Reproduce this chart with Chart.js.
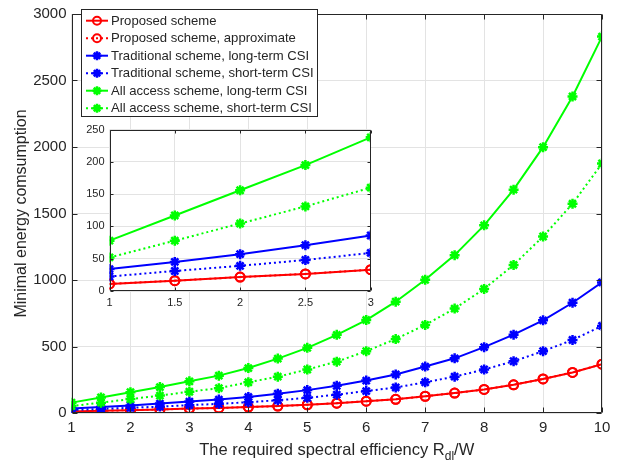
<!DOCTYPE html>
<html>
<head>
<meta charset="utf-8">
<script src="https://cdn.jsdelivr.net/npm/chart.js@4"></script>
<style>
  html, body { margin: 0; padding: 0; background: #ffffff; }
  #wrap { position: relative; width: 624px; height: 465px; }
  #main { position: absolute; left: 0; top: 0; }
  #inset { position: absolute; left: 75px; top: 118px; }
</style>
</head>
<body>
<div id="wrap">
  <canvas id="main" width="624" height="465"></canvas>
  <canvas id="inset" width="305" height="200"></canvas>
</div>
<script>
// ---------------- data ----------------
const xValues = [1, 1.5, 2, 2.5, 3, 3.5, 4, 4.5, 5, 5.5, 6, 6.5, 7, 7.5, 8, 8.5, 9, 9.5, 10];

const proposed        = [11, 16, 21.5, 26.5, 33, 38, 45, 52, 62, 74, 89, 103, 126, 150, 177, 212, 256, 305, 367];
const proposedApprox  = [11, 16, 21.5, 26.5, 33, 38, 45, 52, 62, 74, 89, 103, 126, 150, 177, 212, 256, 305, 367];
const tradLong        = [34, 45, 57, 71, 86, 101, 120, 145, 172, 205, 244, 290, 349, 411, 495, 589, 697, 829, 982];
const tradShort       = [22.5, 31, 39, 48, 59, 69, 81, 96, 114, 138, 165, 192, 231, 273, 327, 389, 465, 549, 655];
const allLong         = [78, 117, 156, 195, 238, 281, 338, 409, 490, 588, 699, 837, 1002, 1187, 1411, 1679, 1999, 2380, 2830];
const allShort        = [52, 78, 104.5, 131, 160, 187, 231, 273, 327, 386, 465, 556, 662, 785, 933, 1113, 1327, 1573, 1876];

const seriesLabels = [
  'Proposed scheme',
  'Proposed scheme, approximate',
  'Traditional scheme, long-term CSI',
  'Traditional scheme, short-term CSI',
  'All access scheme, long-term CSI',
  'All access scheme, short-term CSI'
];

const mainYTicks = [0, 500, 1000, 1500, 2000, 2500, 3000];
const mainXTicks = [1, 2, 3, 4, 5, 6, 7, 8, 9, 10];
const insetYTicks = [0, 50, 100, 150, 200, 250];
const insetXTicks = [1, 1.5, 2, 2.5, 3];
const insetMaxX = 3;

const yTitle = 'Minimal energy comsumption';
const xTitleMain = 'The required spectral efficiency R';
const xTitleSub = 'dl';
const xTitleEnd = '/W';

// ---------------- styling ----------------
const AX = '#262626';
const GRID = '#e3e3e3';
const FONT = "'Liberation Sans', Arial, Helvetica, sans-serif";
const RED = '#ff0000', BLUE = '#0000ff', GREEN = '#00ff00';
const DOT = [2, 3];

const seriesValues = [proposed, proposedApprox, tradLong, tradShort, allLong, allShort];
const seriesStyle = [
  { color: RED,   dash: [],  marker: 'circle' },
  { color: RED,   dash: DOT, marker: 'circle' },
  { color: BLUE,  dash: [],  marker: 'star' },
  { color: BLUE,  dash: DOT, marker: 'star' },
  { color: GREEN, dash: [],  marker: 'star' },
  { color: GREEN, dash: DOT, marker: 'star' }
];

function makeDatasets(maxX) {
  return seriesValues.map((vals, i) => {
    const st = seriesStyle[i];
    const pts = [];
    xValues.forEach((x, k) => { if (x <= maxX) pts.push({ x: x, y: vals[k] }); });
    const circ = st.marker === 'circle';
    return {
      label: seriesLabels[i],
      data: pts,
      borderColor: st.color,
      backgroundColor: st.color,
      borderWidth: 2,
      borderDash: st.dash,
      borderCapStyle: 'butt',
      pointStyle: circ ? 'circle' : 'star',
      pointRadius: circ ? 4.5 : 5,
      pointBorderWidth: circ ? 2 : 2.5,
      pointBackgroundColor: circ ? 'rgba(0,0,0,0)' : st.color,
      pointBorderColor: st.color,
      pointHoverRadius: 5,
      tension: 0,
      fill: false,
      order: 6 - i
    };
  });
}

function drawMarker(ctx, type, x, y, r, color, lw) {
  ctx.save();
  ctx.setLineDash([]);
  ctx.strokeStyle = color;
  ctx.lineWidth = lw;
  ctx.beginPath();
  if (type === 'circle') {
    ctx.arc(x, y, r, 0, Math.PI * 2);
  } else {
    ctx.moveTo(x - r, y); ctx.lineTo(x + r, y);
    ctx.moveTo(x, y - r); ctx.lineTo(x, y + r);
    const d = r * Math.SQRT1_2;
    ctx.moveTo(x - d, y - d); ctx.lineTo(x + d, y + d);
    ctx.moveTo(x - d, y + d); ctx.lineTo(x + d, y - d);
  }
  ctx.stroke();
  ctx.restore();
}

const plotBg = {
  id: 'plotBg',
  beforeDraw(chart) {
    const { ctx, chartArea: a } = chart;
    ctx.save();
    ctx.fillStyle = '#ffffff';
    ctx.fillRect(a.left, a.top, a.right - a.left, a.bottom - a.top);
    ctx.restore();
  }
};

const boxTicks = {
  id: 'boxTicks',
  afterDatasetsDraw(chart, args, opts) {
    const { ctx, chartArea: a, scales: { x, y } } = chart;
    const L = opts.len || 5;
    ctx.save();
    ctx.strokeStyle = AX;
    ctx.lineWidth = 1;
    ctx.setLineDash([]);
    ctx.beginPath();
    const l = Math.round(a.left) + 0.5, r = Math.round(a.right) - 0.5;
    const t = Math.round(a.top) + 0.5, b = Math.round(a.bottom) - 0.5;
    ctx.rect(l, t, r - l, b - t);
    x.ticks.forEach(tk => {
      const px = Math.round(x.getPixelForValue(tk.value)) + 0.5;
      ctx.moveTo(px, b); ctx.lineTo(px, b - L);
      ctx.moveTo(px, t); ctx.lineTo(px, t + L);
    });
    y.ticks.forEach(tk => {
      const py = Math.round(y.getPixelForValue(tk.value)) + 0.5;
      ctx.moveTo(l, py); ctx.lineTo(l + L, py);
      ctx.moveTo(r, py); ctx.lineTo(r - L, py);
    });
    ctx.stroke();
    ctx.restore();
  }
};

const boxLegend = {
  id: 'boxLegend',
  afterDraw(chart) {
    const { ctx } = chart;
    const left = 81.5, top = 9.5, w = 236, h = 107;
    ctx.save();
    ctx.fillStyle = '#ffffff';
    ctx.fillRect(left, top, w, h);
    ctx.strokeStyle = AX;
    ctx.lineWidth = 1;
    ctx.strokeRect(left, top, w, h);
    ctx.font = '13.1px ' + FONT;
    ctx.textBaseline = 'middle';
    ctx.textAlign = 'left';
    chart.data.datasets.forEach((ds, i) => {
      const cy = top + 11.2 + i * 17.5;
      ctx.save();
      ctx.strokeStyle = ds.borderColor;
      ctx.lineWidth = 2;
      ctx.setLineDash(ds.borderDash);
      ctx.beginPath();
      ctx.moveTo(86, cy); ctx.lineTo(108, cy);
      ctx.stroke();
      ctx.restore();
      drawMarker(ctx, ds.pointStyle, 97, cy, ds.pointStyle === 'circle' ? 4 : 4.5, ds.borderColor, ds.pointStyle === 'circle' ? 2 : 2.5);
      ctx.fillStyle = AX;
      ctx.fillText(ds.label, 111, cy + 0.5);
    });
    ctx.restore();
  }
};

const xTitlePlugin = {
  id: 'xTitlePlugin',
  afterDraw(chart) {
    const { ctx, chartArea: a } = chart;
    ctx.save();
    ctx.fillStyle = AX;
    ctx.textBaseline = 'alphabetic';
    ctx.textAlign = 'left';
    const big = '16.5px ' + FONT, small = '12px ' + FONT;
    ctx.font = big;
    const w1 = ctx.measureText(xTitleMain).width;
    const w3 = ctx.measureText(xTitleEnd).width;
    ctx.font = small;
    const w2 = ctx.measureText(xTitleSub).width;
    const total = w1 + w2 + w3;
    const x0 = (a.left + a.right) / 2 - total / 2;
    const base = 455;
    ctx.font = big;
    ctx.fillText(xTitleMain, x0, base);
    ctx.font = small;
    ctx.fillText(xTitleSub, x0 + w1, base + 5);
    ctx.font = big;
    ctx.fillText(xTitleEnd, x0 + w1 + w2, base);
    ctx.restore();
  }
};

function tickList(list) {
  return function (scale) {
    scale.ticks = list.map(v => ({ value: v }));
  };
}
const plainLabel = v => String(v);

// ---------------- main chart ----------------
new Chart(document.getElementById('main'), {
  type: 'line',
  data: { datasets: makeDatasets(10) },
  plugins: [plotBg, boxTicks, xTitlePlugin, boxLegend],
  options: {
    responsive: false,
    animation: false,
    events: [],
    layout: { padding: { top: 7, right: 22, left: 0, bottom: 0 } },
    plugins: { legend: { display: false }, tooltip: { enabled: false }, boxTicks: { len: 5 } },
    scales: {
      x: {
        type: 'linear', min: 1, max: 10,
        afterBuildTicks: tickList(mainXTicks),
        afterFit(s) { s.height = 52; },
        grid: { color: GRID, drawTicks: false, lineWidth: 1 },
        border: { display: false },
        ticks: { font: { size: 15, family: FONT }, color: AX, padding: 6, maxRotation: 0, callback: plainLabel }
      },
      y: {
        type: 'linear', min: 0, max: 3000,
        afterBuildTicks: tickList(mainYTicks),
        afterFit(s) { s.width = 71.5; },
        grid: { color: GRID, drawTicks: false, lineWidth: 1 },
        border: { display: false },
        ticks: { font: { size: 15, family: FONT }, color: AX, padding: 5, callback: plainLabel },
        title: { display: true, text: yTitle, font: { size: 16, family: FONT }, color: AX, padding: { top: 12, bottom: 0 } }
      }
    }
  }
});

// ---------------- inset chart ----------------
new Chart(document.getElementById('inset'), {
  type: 'line',
  data: { datasets: makeDatasets(insetMaxX) },
  plugins: [plotBg, boxTicks],
  options: {
    responsive: false,
    animation: false,
    events: [],
    layout: { padding: { top: 10.3, right: 9.3, left: 0, bottom: 0 } },
    plugins: { legend: { display: false }, tooltip: { enabled: false }, boxTicks: { len: 3 } },
    scales: {
      x: {
        type: 'linear', min: 1, max: 3,
        afterBuildTicks: tickList(insetXTicks),
        afterFit(s) { s.height = 27; },
        grid: { color: GRID, drawTicks: false, lineWidth: 1 },
        border: { display: false },
        ticks: { font: { size: 11, family: FONT }, color: AX, padding: 5, maxRotation: 0, callback: plainLabel }
      },
      y: {
        type: 'linear', min: 0, max: 250,
        afterBuildTicks: tickList(insetYTicks),
        afterFit(s) { s.width = 34.5; },
        grid: { color: GRID, drawTicks: false, lineWidth: 1 },
        border: { display: false },
        ticks: { font: { size: 11, family: FONT }, color: AX, padding: 5, callback: plainLabel }
      }
    }
  }
});
</script>
</body>
</html>
